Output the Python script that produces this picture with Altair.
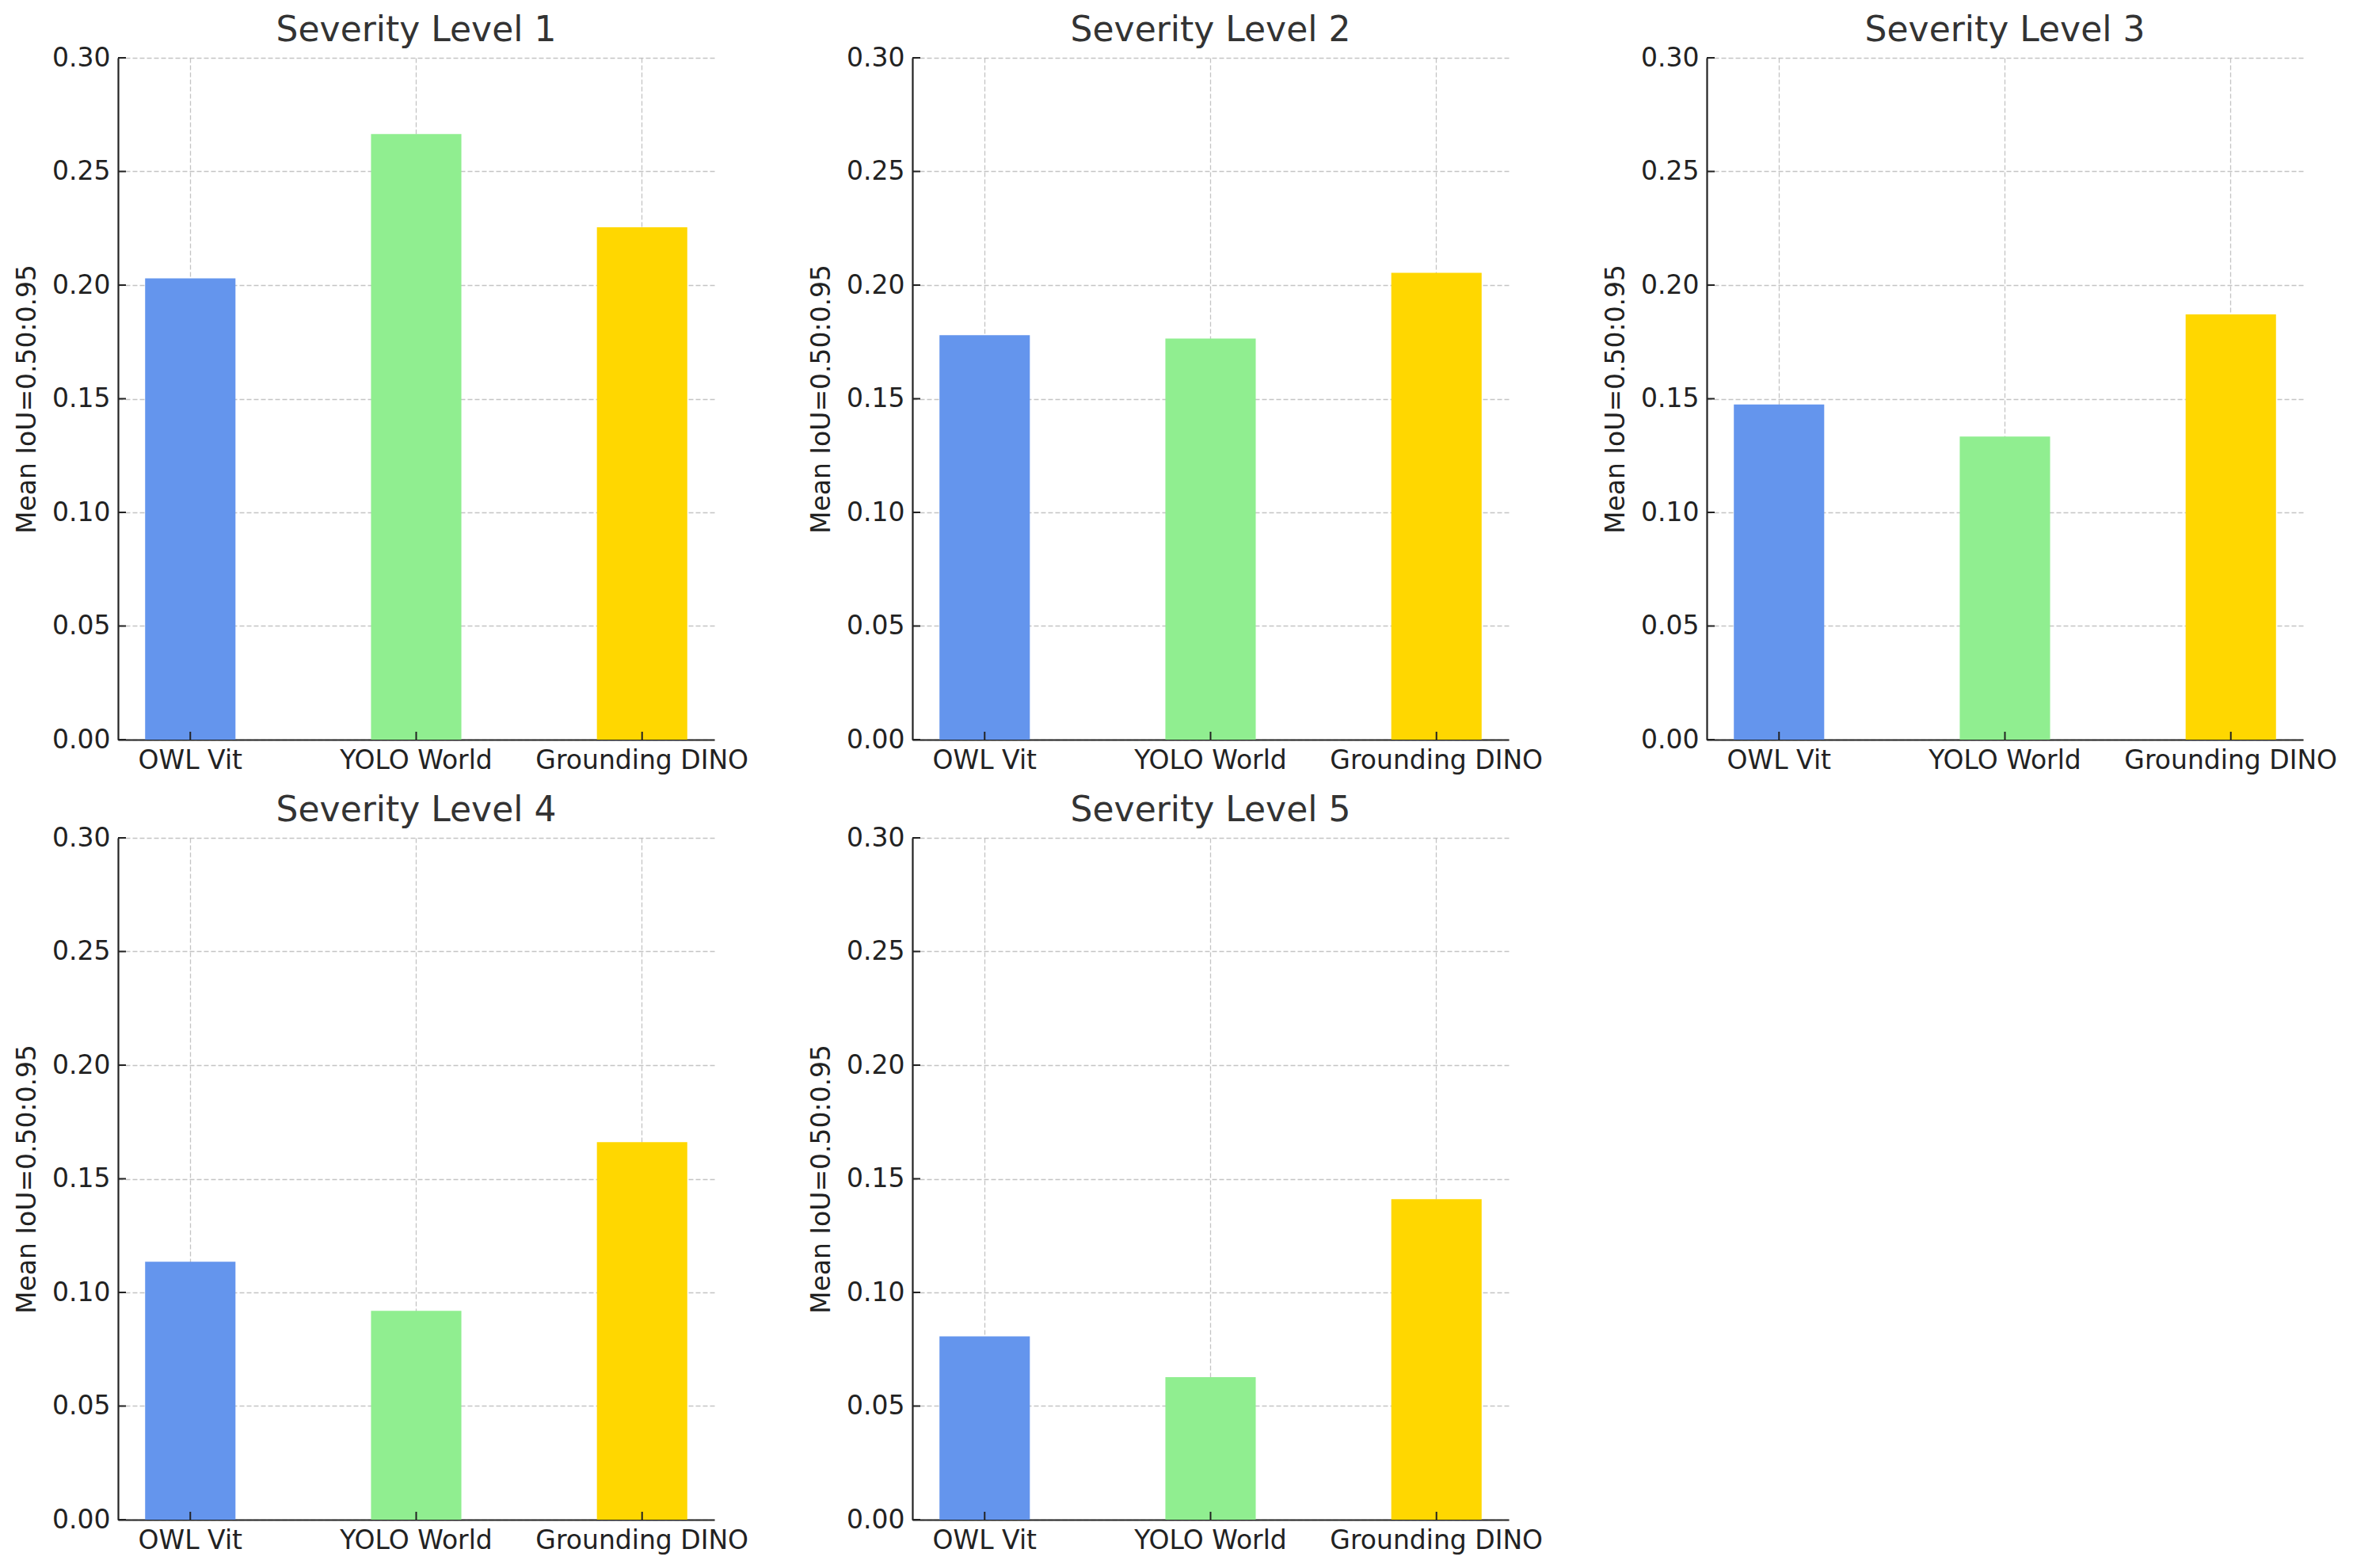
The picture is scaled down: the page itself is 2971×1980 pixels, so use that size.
import altair as alt
import pandas as pd

models = ["OWL Vit", "YOLO World", "Grounding DINO"]
colors = ["#6495ED", "#90EE90", "#FFD700"]
levels = ["Severity Level 1", "Severity Level 2", "Severity Level 3",
          "Severity Level 4", "Severity Level 5"]
owl_vit = [0.2030, 0.1780, 0.1475, 0.1135, 0.0807]
yolo_world = [0.2665, 0.1765, 0.1334, 0.0919, 0.0627]
grounding_dino = [0.2254, 0.2054, 0.1871, 0.1661, 0.1410]
y_ticks = [0.0, 0.05, 0.10, 0.15, 0.20, 0.25, 0.30]
y_title = "Mean IoU=0.50:0.95"

W, H = 753, 861
FONT = "DejaVu Sans"
AXIS_COLOR = "#222222"

charts = []
for i, lvl in enumerate(levels):
    df = pd.DataFrame({
        "model": models,
        "value": [owl_vit[i], yolo_world[i], grounding_dino[i]],
    })
    xscale = alt.Scale(domain=models, paddingInner=0.6, paddingOuter=0.12)
    yscale = alt.Scale(domain=[0, 0.3], nice=False, zero=True)
    bars = alt.Chart(df).mark_bar().encode(
        x=alt.X("model:N", sort=models, scale=xscale,
                axis=alt.Axis(title=None, labelAngle=0, grid=True,
                              bandPosition=0.5, ticks=False, tickSize=0,
                              labelPadding=10, labelLimit=0)),
        y=alt.Y("value:Q", scale=yscale,
                axis=alt.Axis(values=y_ticks, format=".2f", title=y_title,
                              ticks=False, tickSize=0, labelPadding=10,
                              titlePadding=14)),
        color=alt.Color("model:N", scale=alt.Scale(domain=models, range=colors),
                        legend=None),
    )
    ytick_df = pd.DataFrame({"v": y_ticks})
    yt = alt.Chart(ytick_df).mark_rule(color=AXIS_COLOR, strokeWidth=2).encode(
        y=alt.Y("v:Q", scale=yscale, title=y_title),
        x=alt.value(0), x2=alt.value(10),
    )
    xtick_df = pd.DataFrame({"model": models})
    xt = alt.Chart(xtick_df).mark_rule(color=AXIS_COLOR, strokeWidth=2).encode(
        x=alt.X("model:N", sort=models, scale=xscale, title=None),
        y=alt.value(H), y2=alt.value(H - 10),
    )
    layer = alt.layer(bars, yt, xt).properties(
        width=W, height=H,
        title=alt.TitleParams(lvl, fontSize=44, font=FONT, color="#333333",
                              fontWeight="normal", offset=-4, anchor="middle"),
    )
    charts.append(layer)

chart = alt.concat(*charts, columns=3, spacing={"row": 124, "column": 250},
                   bounds="flush").properties(
    padding={"left": 10, "top": 9, "right": 5, "bottom": 5},
    background="white",
).configure_view(stroke=None).configure_axis(
    labelFont=FONT, titleFont=FONT, labelFontSize=33, titleFontSize=33,
    labelColor="#222222", titleColor="#222222", titleFontWeight="normal",
    domainColor=AXIS_COLOR, domainWidth=2.2,
    gridColor="#b0b0b0", gridOpacity=0.75, gridDash=[6, 3], gridWidth=1.3,
    zindex=1,
)

chart.save("out.html", embed_options={"renderer": "svg", "actions": False})
